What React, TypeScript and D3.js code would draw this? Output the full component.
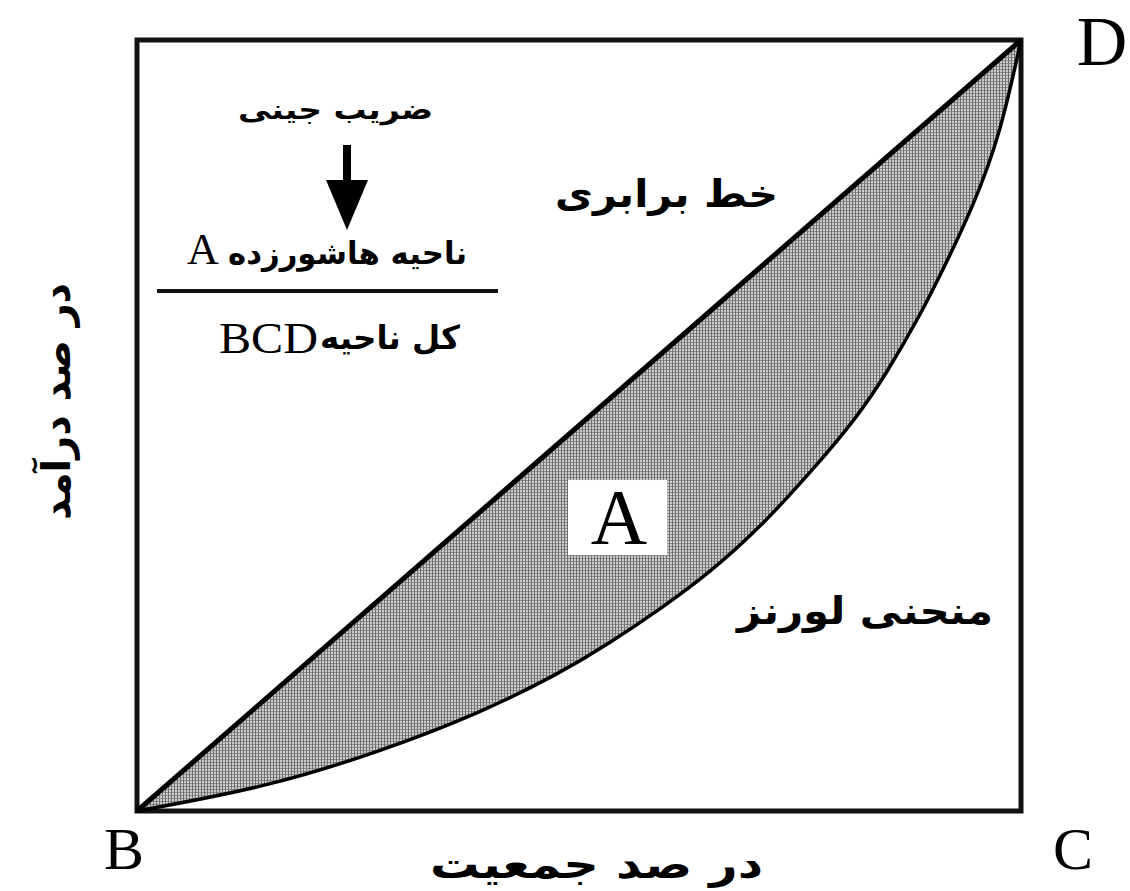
import React, { useEffect, useRef } from "react";
import * as d3 from "d3";

// Lorenz curve (share of population -> share of income)
const lorenzX = [0, 0.147, 0.275, 0.388, 0.479, 0.535, 0.592, 0.648, 0.705, 0.761, 0.815, 0.848, 0.886, 0.916, 0.946, 0.976, 1];
const lorenzY = [0, 0.031, 0.077, 0.127, 0.179, 0.218, 0.262, 0.309, 0.368, 0.438, 0.511, 0.568, 0.643, 0.712, 0.785, 0.875, 1];
const equalityX = [0, 1];
const equalityY = [0, 1];

const cornerLabels = ["B", "C", "D"];
const xTitle = "در صد جمعیت";
const yTitle = "در صد درآمد";
const equalityLabel = "خط برابری";
const lorenzLabel = "منحنی لورنز";
const areaLabel = "A";
const giniTitle = "ضریب جینی";
const giniNumerator = ["ناحیه هاشورزده", "A"];
const giniDenominator = ["کل ناحیه", "BCD"];

const W = 1130;
const H = 891;
const FA = "'DejaVu Sans', sans-serif";
const SERIF = "'Liberation Serif', 'DejaVu Serif', serif";

export default function App() {
  const svgRef = useRef<SVGSVGElement>(null);

  useEffect(() => {
    document.body.style.margin = "0";
    const svg = d3.select(svgRef.current);
    svg.selectAll("*").remove();

    const x = d3.scaleLinear().domain([0, 1]).range([137, 1021]);
    const y = d3.scaleLinear().domain([0, 1]).range([811, 40]);

    const lorenz = lorenzX.map((v, i) => [v, lorenzY[i]] as [number, number]);
    const equality = equalityX.map((v, i) => [v, equalityY[i]] as [number, number]);

    // hatch pattern
    const defs = svg.append("defs");
    const pat = defs
      .append("pattern")
      .attr("id", "hatch")
      .attr("patternUnits", "userSpaceOnUse")
      .attr("width", 3)
      .attr("height", 3);
    pat.append("rect").attr("width", 3).attr("height", 3).attr("fill", "#cccccc");
    pat.append("rect").attr("width", 1).attr("height", 3).attr("fill", "#707070");
    pat.append("rect").attr("x", 1).attr("width", 2).attr("height", 1).attr("fill", "#8c8c8c");

    // smoothed curve through the read points
    const line = d3
      .line<[number, number]>()
      .x((d) => x(d[0]))
      .y((d) => y(d[1]))
      .curve(d3.curveBasis);

    // shaded area between equality line and lorenz curve
    const area = d3
      .area<[number, number]>()
      .x((d) => x(d[0]))
      .y0((d) => y(d[1]))
      .y1((d) => y(d[0]))
      .curve(d3.curveBasis);
    svg.append("path").datum(lorenz).attr("d", area).attr("fill", "url(#hatch)");

    // frame
    svg
      .append("rect")
      .attr("x", x(0))
      .attr("y", y(1))
      .attr("width", x(1) - x(0))
      .attr("height", y(0) - y(1))
      .attr("fill", "none")
      .attr("stroke", "#111")
      .attr("stroke-width", 5);

    svg
      .append("path")
      .datum(equality)
      .attr("d", d3.line<[number, number]>().x((d) => x(d[0])).y((d) => y(d[1])))
      .attr("fill", "none")
      .attr("stroke", "#000")
      .attr("stroke-width", 5);

    svg
      .append("path")
      .datum(lorenz)
      .attr("d", line)
      .attr("fill", "none")
      .attr("stroke", "#000")
      .attr("stroke-width", 3.5);

    // corner labels
    const corners: [string, number, number, number][] = [
      [cornerLabels[0], x(0) - 13, y(0) + 58, 60],
      [cornerLabels[1], x(1) + 52, y(0) + 58, 60],
      [cornerLabels[2], x(1) + 81, y(1) + 25, 70],
    ];
    svg
      .selectAll(".corner")
      .data(corners)
      .enter()
      .append("text")
      .attr("x", (d) => d[1])
      .attr("y", (d) => d[2])
      .attr("text-anchor", "middle")
      .style("font-family", SERIF)
      .style("font-size", (d) => `${d[3]}px`)
      .text((d) => d[0]);

    // region A label
    const ax = x(0.543);
    const ay = y(0.38);
    svg
      .append("rect")
      .attr("x", ax - 49)
      .attr("y", ay - 38)
      .attr("width", 99)
      .attr("height", 75)
      .attr("fill", "#fff");
    svg
      .append("text")
      .attr("x", ax + 2)
      .attr("y", ay + 25)
      .attr("text-anchor", "middle")
      .style("font-family", SERIF)
      .style("font-size", "78px")
      .text(areaLabel);

    // persian text, stretched to the width it has in the picture
    const faText = (t: string, x0: number, x1: number, base: number, size: number, weight = "bold") =>
      svg
        .append("text")
        .attr("x", x0)
        .attr("y", base)
        .attr("direction", "ltr")
        .attr("textLength", x1 - x0)
        .attr("lengthAdjust", "spacingAndGlyphs")
        .style("font-family", FA)
        .style("font-size", `${size}px`)
        .style("font-weight", weight)
        .text(t);

    faText(equalityLabel, 555, 778, 207, 38);
    faText(lorenzLabel, 737, 993, 624, 38);
    faText(xTitle, 430, 763, 878, 40);
    faText(yTitle, -520, -283, 70, 40).attr("transform", "rotate(-90)");

    // gini formula
    faText(giniTitle, 238, 433, 119, 27);
    svg
      .append("line")
      .attr("x1", 347)
      .attr("x2", 347)
      .attr("y1", 145)
      .attr("y2", 190)
      .attr("stroke", "#000")
      .attr("stroke-width", 8);
    svg
      .append("path")
      .attr("d", "M326,180 L368,180 L347,230 Z")
      .attr("fill", "#000");
    faText(giniNumerator[0], 228, 467, 264, 31);
    svg
      .append("text")
      .attr("x", 187)
      .attr("y", 264)
      .style("font-family", SERIF)
      .style("font-size", "44px")
      .text(giniNumerator[1]);
    svg
      .append("line")
      .attr("x1", 157)
      .attr("x2", 498)
      .attr("y1", 291)
      .attr("y2", 291)
      .attr("stroke", "#111")
      .attr("stroke-width", 4);
    faText(giniDenominator[0], 320, 460, 349, 33);
    svg
      .append("text")
      .attr("x", 219)
      .attr("y", 353)
      .attr("textLength", 99)
      .attr("lengthAdjust", "spacingAndGlyphs")
      .style("font-family", SERIF)
      .style("font-size", "44px")
      .text(giniDenominator[1]);
  }, []);

  return <svg ref={svgRef} width={W} height={H} style={{ display: "block", background: "#fff" }} />;
}
